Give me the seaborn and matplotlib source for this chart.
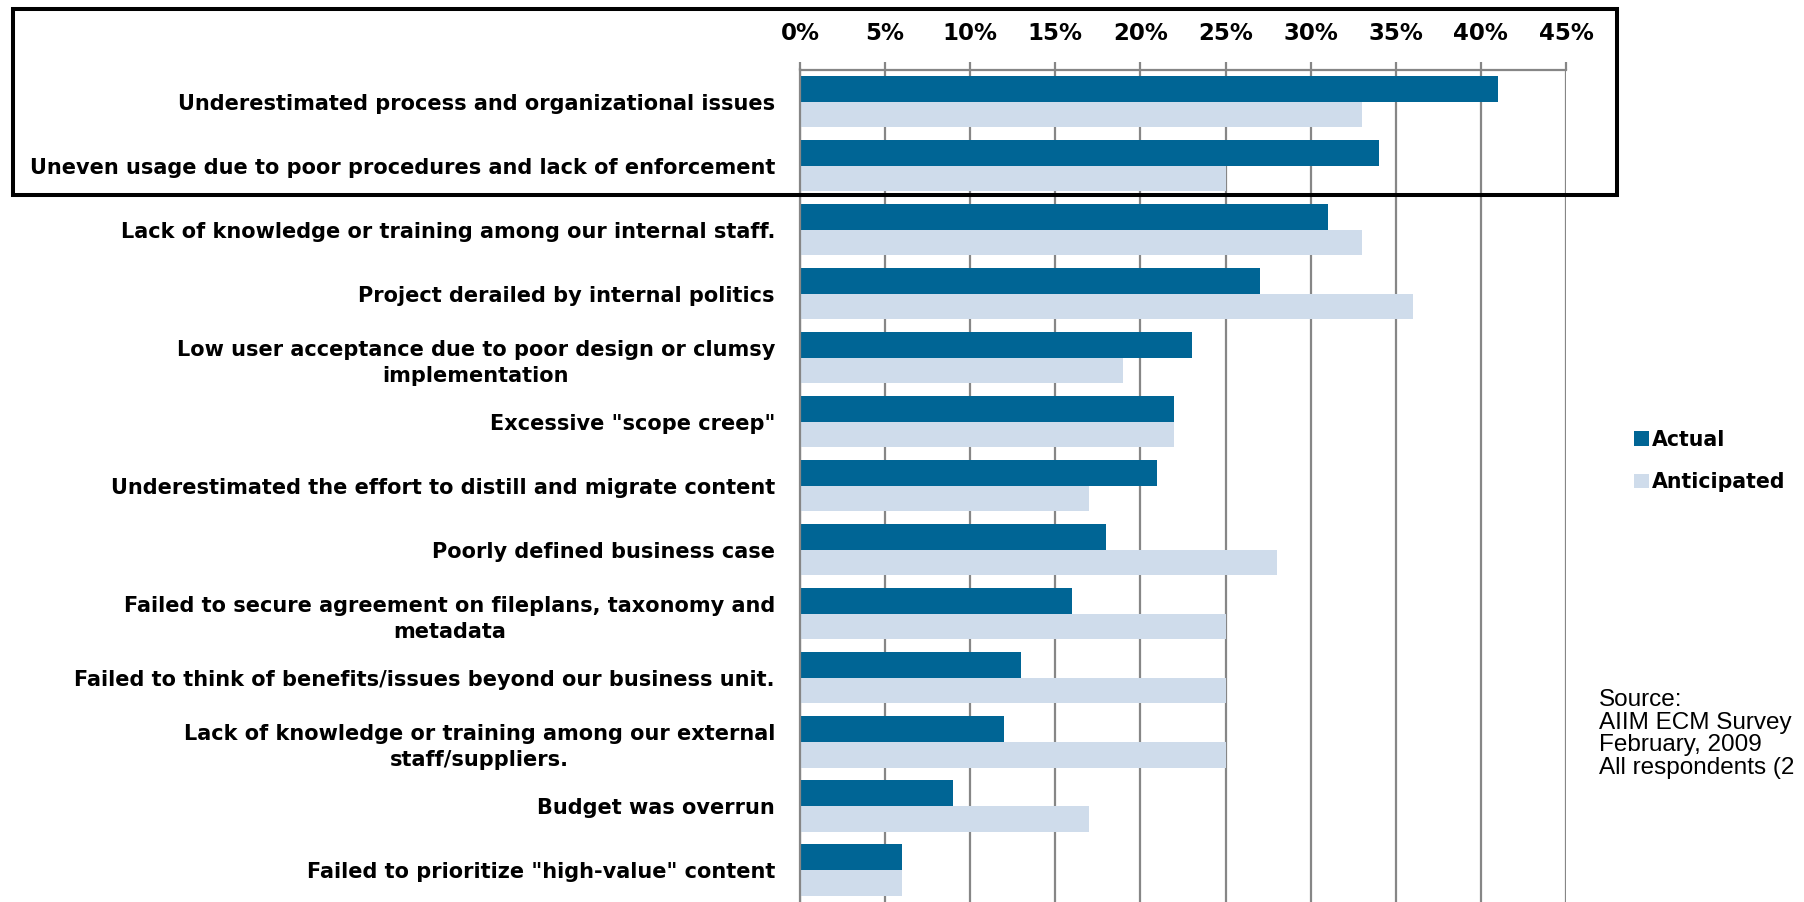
import matplotlib
matplotlib.use("Agg")
import matplotlib.pyplot as plt
import seaborn as sns
import pandas as pd
from matplotlib.patches import Rectangle, Patch
from matplotlib.ticker import FuncFormatter

categories = [
    "Underestimated process and organizational issues",
    "Uneven usage due to poor procedures and lack of enforcement",
    "Lack of knowledge or training among our internal staff.",
    "Project derailed by internal politics",
    "Low user acceptance due to poor design or clumsy\nimplementation",
    "Excessive \"scope creep\"",
    "Underestimated the effort to distill and migrate content",
    "Poorly defined business case",
    "Failed to secure agreement on fileplans, taxonomy and\nmetadata",
    "Failed to think of benefits/issues beyond our business unit.",
    "Lack of knowledge or training among our external\nstaff/suppliers.",
    "Budget was overrun",
    "Failed to prioritize \"high-value\" content",
]
actual = [41, 34, 31, 27, 23, 22, 21, 18, 16, 13, 12, 9, 6]
anticipated = [33, 25, 33, 36, 19, 22, 17, 28, 25, 25, 25, 17, 6]
series_names = ["Actual", "Anticipated"]
x_ticks = [0, 5, 10, 15, 20, 25, 30, 35, 40, 45]
source_lines = ["Source:", "AIIM ECM Survey", "February, 2009", "All respondents (2"]

dark = "#006595"
light = "#CFDCEB"
grid_c = "#868686"
bold_family = ["DejaVu Sans"]

sns.set_theme(style="white")
plt.rcParams["font.family"] = ["Liberation Sans", "DejaVu Sans"]
plt.rcParams["text.color"] = "black"
plt.rcParams["xtick.color"] = "black"
plt.rcParams["ytick.color"] = "black"

df = pd.DataFrame({
    "category": categories * 2,
    "value": actual + anticipated,
    "series": [series_names[0]] * len(categories) + [series_names[1]] * len(categories),
})

fig = plt.figure(figsize=(18.04, 9.02), dpi=100)
ax = fig.add_axes([800 / 1804, 0.0, (1566 - 800) / 1804, 1 - 69.5 / 902])

sns.barplot(data=df, y="category", x="value", hue="series", orient="h",
            palette=[dark, light], saturation=1, width=0.8, linewidth=0, ax=ax,
            legend=False, errorbar=None)

ax.set_xlim(0, 45)
ax.set_ylim(len(categories) - 0.5, -0.5)
ax.set_xticks(x_ticks)
ax.xaxis.set_major_formatter(FuncFormatter(lambda v, p: f"{int(v)}%"))
ax.xaxis.tick_top()
ax.xaxis.set_label_position("top")
ax.set_xlabel("")
ax.set_ylabel("")
ax.set_axisbelow(True)
ax.grid(axis="x", color=grid_c, linewidth=1.6)
ax.grid(axis="y", visible=False)

for s in ["right", "bottom"]:
    ax.spines[s].set_visible(False)
for s in ["top", "left"]:
    ax.spines[s].set_color(grid_c)
    ax.spines[s].set_linewidth(1.6)

ax.tick_params(axis="x", which="major", top=True, bottom=False, direction="out",
               length=6, width=1.6, color=grid_c, labelcolor="black", pad=12,
               labelsize=16.5)
ax.tick_params(axis="y", length=0, pad=18, labelsize=15, labelcolor="black")
for lab in ax.get_xticklabels():
    lab.set_fontweight("bold")
    lab.set_family(bold_family)
for lab in ax.get_yticklabels():
    lab.set_fontweight("bold")
    lab.set_family(bold_family)
    lab.set_multialignment("center")
    lab.set_linespacing(1.4)

# highlight box
fig.patches.append(Rectangle((12.7 / 1804, 1 - 194.5 / 902), (1617 - 12.7) / 1804,
                             (194.5 - 8.7) / 902,
                             transform=fig.transFigure, fill=False, edgecolor="black",
                             linewidth=2.9, zorder=10))

handles = [Patch(facecolor=dark, edgecolor="none"), Patch(facecolor=light, edgecolor="none")]
fig.legend(handles, series_names, loc="center left",
           bbox_to_anchor=(1634 / 1804, 1 - 461 / 902), frameon=False,
           prop={"weight": "bold", "size": 14.8, "family": bold_family},
           handlelength=0.72, handleheight=0.72,
           handletextpad=0.14, labelspacing=1.1, borderpad=0, borderaxespad=0)

fig.text(1599 / 1804, 1 - 689 / 902, "\n".join(source_lines), ha="left", va="top",
         fontsize=17.5, linespacing=1.03, color="black")

fig.savefig("out.png", dpi=100)
